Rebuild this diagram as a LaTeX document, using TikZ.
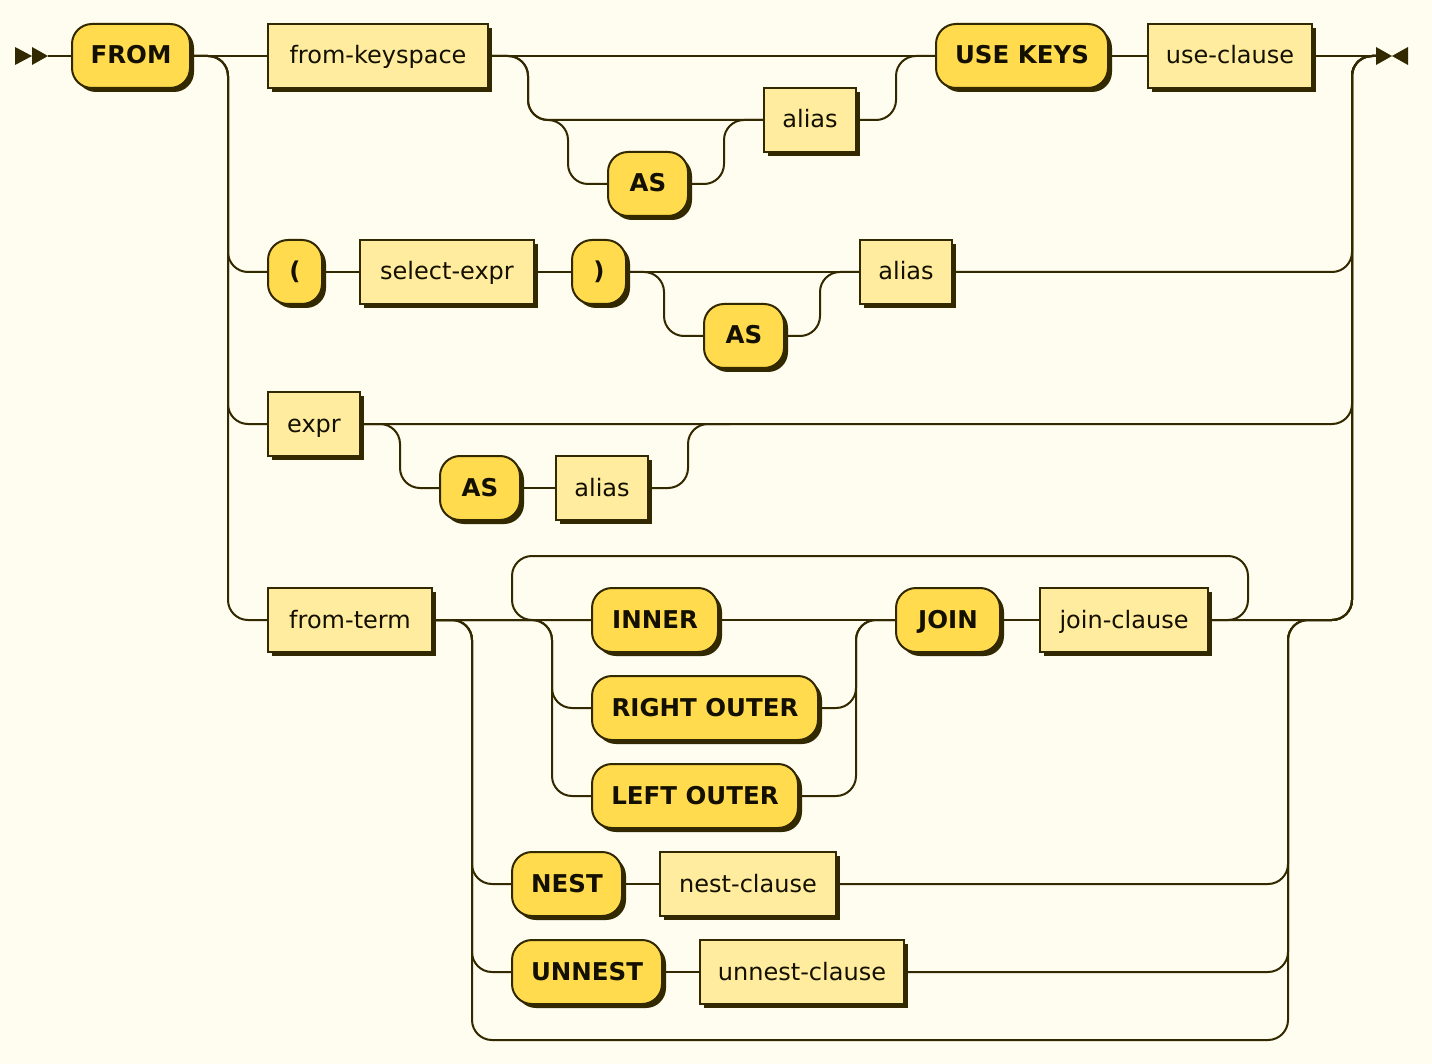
\documentclass[tikz,border=0pt]{standalone}
\usepackage{fontspec}
\setmainfont{DejaVu Sans}
\usetikzlibrary{shadows}
\definecolor{bgcol}{HTML}{FFFCF0}
\definecolor{termfill}{HTML}{FFDB4D}
\definecolor{ntfill}{HTML}{FFEC9E}
\definecolor{linecol}{HTML}{332900}
\definecolor{txtcol}{HTML}{141000}
\tikzset{
  rrbox/.style={draw=linecol, line width=2pt, minimum height=64pt, inner sep=0pt,
    text height=18pt, text depth=2pt,
    text=txtcol, font=\fontsize{24}{28}\selectfont,
    drop shadow={shadow xshift=4pt, shadow yshift=-4pt, opacity=1, fill=linecol}},
  term/.style={rrbox, fill=termfill, rounded corners=20pt, font=\fontsize{24.5}{28}\selectfont\bfseries},
  nterm/.style={rrbox, fill=ntfill},
  rail/.style={draw=linecol, line width=2pt, rounded corners=20pt},
  tip/.style={fill=linecol, draw=none}
}
\begin{document}
\begin{tikzpicture}[x=1pt,y=-1pt]
\fill[bgcol] (0,0) rectangle (1432,1064);
\useasboundingbox (0,0) rectangle (1432,1064);

% start / end symbols
\fill[tip] (15,47) -- (32,56) -- (15,65) -- cycle;
\fill[tip] (32,47) -- (48,56) -- (32,65) -- cycle;
\coordinate (start) at (48,56);
\fill[tip] (1376,47) -- (1392,56) -- (1376,65) -- cycle;
\fill[tip] (1408,47) -- (1392,56) -- (1408,65) -- cycle;
\coordinate (end) at (1376,56);

% nodes
\node[term,  minimum width=118pt] (from)   at (131,56)  {FROM};
\node[nterm, minimum width=220pt] (fks)    at (378,56)  {from-keyspace};
\node[term,  minimum width=172pt] (uk)     at (1022,56) {USE KEYS};
\node[nterm, minimum width=164pt] (uc)     at (1230,56) {use-clause};
\node[nterm, minimum width=92pt]  (alias1) at (810,120)  {alias};
\node[term,  minimum width=80pt]  (as1)    at (648,184)  {AS};

\node[term,  minimum width=54pt]  (lp)     at (295,272) {(};
\node[nterm, minimum width=174pt] (se)     at (447,272) {select-expr};
\node[term,  minimum width=54pt]  (rp)     at (599,272) {)};
\node[nterm, minimum width=92pt]  (alias2) at (906,272) {alias};
\node[term,  minimum width=80pt]  (as2)    at (744,336) {AS};

\node[nterm, minimum width=92pt]  (expr)   at (314,424) {expr};
\node[term,  minimum width=80pt]  (as3)    at (480,488) {AS};
\node[nterm, minimum width=92pt]  (alias3) at (602,488) {alias};
\coordinate (r3) at (730,424);

\node[nterm, minimum width=164pt] (ft)     at (350,620) {from-term};
\node[term,  minimum width=126pt] (inner)  at (655,620) {INNER};
\node[term,  minimum width=226pt] (ro)     at (705,708) {RIGHT OUTER};
\node[term,  minimum width=206pt] (lo)     at (695,796) {LEFT OUTER};
\node[term,  minimum width=104pt] (join)   at (948,620) {JOIN};
\node[nterm, minimum width=168pt] (jc)     at (1124,620) {join-clause};
\node[term,  minimum width=110pt] (nest)   at (567,884) {NEST};
\node[nterm, minimum width=176pt] (nc)     at (748,884) {nest-clause};
\node[term,  minimum width=150pt] (unnest) at (587,972) {UNNEST};
\node[nterm, minimum width=204pt] (unc)    at (802,972) {unnest-clause};

% rails row 1
\draw[rail] (start) -- (from.west);
\draw[rail] (from.east) -- (fks.west);
\draw[rail] (fks.east) -- (uk.west);
\draw[rail] (uk.east) -- (uc.west);
\draw[rail] (uc.east) -- (end);
\draw[rail] (fks.east) -- (528,56) |- (alias1.west);
\draw[rail] (fks.east) -- (528,56) |- (568,120) |- (as1.west);
\draw[rail] (as1.east) -| (724,120) -- (alias1.west);
\draw[rail] (alias1.east) -| (896,56) -- (uk.west);

% left trunk
\draw[rail] (from.east) -- (228,56) |- (lp.west);
\draw[rail] (from.east) -- (228,56) |- (expr.west);
\draw[rail] (from.east) -- (228,56) |- (ft.west);

% row 2
\draw[rail] (lp.east) -- (se.west);
\draw[rail] (se.east) -- (rp.west);
\draw[rail] (rp.east) -- (alias2.west);
\draw[rail] (rp.east) -| (664,336) -- (as2.west);
\draw[rail] (as2.east) -| (820,272) -- (alias2.west);
\draw[rail] (alias2.east) -| (1352,56) -- (end);

% row 3
\draw[rail] (expr.east) -| (1352,56) -- (end);
\draw[rail] (expr.east) -| (400,488) -- (as3.west);
\draw[rail] (as3.east) -- (alias3.west);
\draw[rail] (alias3.east) -| (688,424) -- (r3);

% row 4
\draw[rail] (ft.east) -- (inner.west);
\draw[rail] (ft.east) -| (552,708) -- (ro.west);
\draw[rail] (ft.east) -| (552,796) -- (lo.west);
\draw[rail] (inner.east) -- (join.west);
\draw[rail] (ro.east) -| (856,620) -- (join.west);
\draw[rail] (lo.east) -| (856,620) -- (join.west);
\draw[rail] (join.east) -- (jc.west);
\draw[rail] (jc.east) -| (1352,56) -- (end);
\draw[rail] (jc.east) -| (1248,556) -| (512,620) -- (inner.west);
\draw[rail] (ft.east) -| (472,884) -- (nest.west);
\draw[rail] (ft.east) -| (472,972) -- (unnest.west);
\draw[rail] (ft.east) -| (472,1040) -| (1288,620) -| (1352,56) -- (end);
\draw[rail] (nest.east) -- (nc.west);
\draw[rail] (nc.east) -| (1288,620) -| (1352,56) -- (end);
\draw[rail] (unnest.east) -- (unc.west);
\draw[rail] (unc.east) -| (1288,620) -| (1352,56) -- (end);
\end{tikzpicture}
\end{document}
